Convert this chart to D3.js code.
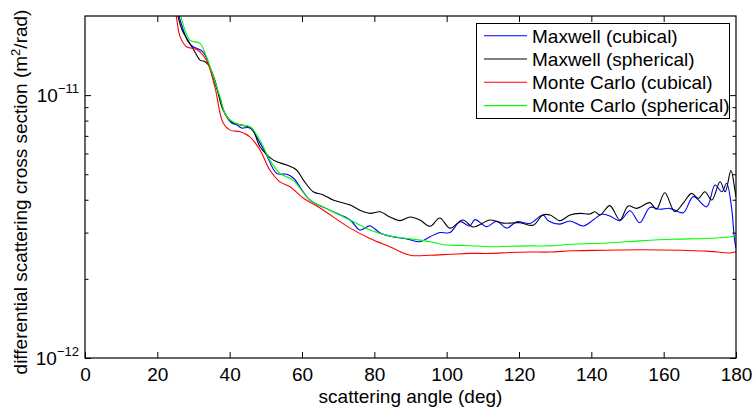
<!DOCTYPE html>
<html><head><meta charset="utf-8">
<script src="https://cdn.jsdelivr.net/npm/d3@7/dist/d3.min.js"></script>
<style>
body{margin:0;background:#fff}
text{font-family:"Liberation Sans",Arial,Helvetica,sans-serif;fill:#000}
</style>
</head><body>
<svg id="c" width="754" height="408"></svg>
<script>
// Values are in units of 1e-12 m^2/rad
const UNIT = 1e-12;
const seriesNames = ["Maxwell (cubical)", "Maxwell (spherical)", "Monte Carlo (cubical)", "Monte Carlo (spherical)"];
const seriesColors = ["#0000ff", "#000000", "#ff0000", "#00ff00"];

const maxwellCubicalAngle = [22, 24.5, 26.0, 28.6, 29.9, 31.2, 32.6, 33.6, 35.5, 37.3, 38.7, 40.6, 42.0, 43.3, 45.6, 48.4, 50.0, 53.0, 55.8, 57.6, 62.2, 67.7, 73.3, 76.0, 78.8, 81.6, 85.2, 89.0, 92.6, 95.4, 98.1, 100.9, 103.7, 106.4, 107.8, 111.1, 113.8, 116.6, 119.4, 123.0, 126.6, 128.1, 131.3, 134.1, 137.8, 140.5, 142.9, 145.1, 147.9, 150.7, 153.4, 156.2, 159.0, 161.7, 165.4, 168.2, 171.9, 174.2, 176.1, 177.4, 178.8, 179.5, 180];
const maxwellCubicalValue = [45, 25, 20.0, 15.9, 15.27, 15.0, 14.61, 13.9, 11.5, 9.8, 8.5, 7.83, 7.7, 7.5, 7.5, 6.57, 6.0, 5.04, 5.0, 4.84, 3.99, 3.65, 3.35, 3.07, 3.18, 2.99, 2.89, 2.84, 2.77, 2.89, 3.0, 3.0, 3.3, 3.18, 3.36, 3.16, 3.31, 3.12, 3.30, 3.25, 3.50, 3.33, 3.23, 3.32, 3.18, 3.35, 3.52, 3.47, 3.33, 3.63, 3.27, 3.74, 3.68, 3.71, 3.57, 4.11, 3.76, 4.55, 4.29, 4.62, 3.71, 2.89, 2.61];

const maxwellSphericalAngle = [22, 24.5, 25.7, 27.0, 29.0, 30.5, 31.8, 33.2, 34.2, 35.9, 38.2, 40.6, 43.3, 46.1, 48.4, 52.1, 55.8, 58.5, 60.4, 63.1, 65.9, 68.6, 73.3, 76.0, 78.8, 81.6, 84.3, 87.1, 89.9, 92.6, 95.4, 98.1, 100.9, 104.5, 107.3, 112.0, 115.6, 120.3, 123.9, 126.6, 128.6, 131.3, 134.1, 136.9, 139.6, 141.0, 142.4, 145.1, 147.9, 150.2, 152.5, 156.2, 158.0, 160.3, 163.1, 165.4, 167.7, 169.6, 171.4, 173.3, 175.6, 177.0, 178.6, 179.7, 180];
const maxwellSphericalValue = [50, 26, 20.0, 17.5, 15.73, 14.5, 13.59, 13.4, 13.0, 11.40, 8.77, 7.91, 7.69, 7.49, 6.36, 5.66, 5.42, 5.19, 4.75, 4.29, 4.17, 3.99, 3.82, 3.65, 3.55, 3.60, 3.44, 3.33, 3.44, 3.35, 3.17, 3.41, 3.12, 3.35, 3.15, 3.35, 3.26, 3.27, 3.20, 3.50, 3.50, 3.33, 3.50, 3.55, 3.53, 3.60, 3.50, 3.80, 3.35, 3.79, 3.71, 3.90, 3.68, 4.25, 3.60, 3.88, 4.23, 4.05, 4.29, 3.99, 4.68, 4.29, 5.16, 4.35, 4.1];

const monteCarloCubicalAngle = [22, 24.0, 25.4, 26.3, 28.1, 30.9, 33.6, 35.9, 38.2, 40.1, 42.9, 45.6, 48.4, 51.1, 53.9, 56.7, 60.4, 65.0, 73.3, 78.8, 84.3, 89.9, 95.4, 100.9, 106.4, 112.0, 117.5, 123.0, 128.6, 134.9, 144.2, 153.4, 164.5, 171.9, 178.3, 179.7, 180];
const monteCarloCubicalValue = [45, 26, 19.3, 16.66, 15.27, 14.92, 13.59, 10.75, 7.83, 7.36, 7.25, 6.94, 6.18, 5.19, 4.68, 4.48, 4.05, 3.72, 3.12, 2.85, 2.65, 2.46, 2.46, 2.48, 2.50, 2.50, 2.52, 2.53, 2.53, 2.56, 2.57, 2.58, 2.57, 2.55, 2.51, 2.53, 2.53];

const monteCarloSphericalAngle = [22, 25.0, 26.5, 29.0, 31.8, 33.6, 35.5, 37.3, 38.7, 40.1, 42.9, 45.6, 48.4, 51.1, 53.9, 57.5, 62.2, 67.7, 73.3, 78.8, 84.3, 89.9, 95.4, 100.0, 105.5, 112.0, 117.5, 123.0, 128.6, 134.9, 144.2, 153.4, 162.6, 171.9, 177.4, 179.7, 180];
const monteCarloSphericalValue = [50, 26, 20.0, 16.2, 15.73, 13.98, 11.74, 9.85, 8.52, 8.04, 7.69, 7.58, 6.74, 5.66, 5.04, 4.75, 3.99, 3.65, 3.35, 3.07, 2.91, 2.84, 2.77, 2.69, 2.68, 2.65, 2.66, 2.67, 2.67, 2.71, 2.74, 2.79, 2.83, 2.85, 2.88, 2.91, 2.91];

const xTicks = [0, 20, 40, 60, 80, 100, 120, 140, 160, 180];
const yMajorTicks = [1e-12, 1e-11];
const yTickBase = ["10", "10"];
const yTickExp = ["\u221212", "\u221211"];
const yMinorTicks = [2e-12, 3e-12, 4e-12, 5e-12, 6e-12, 7e-12, 8e-12, 9e-12];
const xTitle = "scattering angle (deg)";

const angles = [maxwellCubicalAngle, maxwellSphericalAngle, monteCarloCubicalAngle, monteCarloSphericalAngle];
const values = [maxwellCubicalValue, maxwellSphericalValue, monteCarloCubicalValue, monteCarloSphericalValue];

const L = 85, R = 736, T = 16, B = 358;
const FS = 19;
const svg = d3.select("#c");
const x = d3.scaleLinear().domain([0, 180]).range([L, R]);
const y = d3.scaleLog().domain([1e-12, 2e-11]).range([B, T]);

svg.append("defs").append("clipPath").attr("id", "clip")
  .append("rect").attr("x", L).attr("y", T).attr("width", R - L).attr("height", B - T);

const line = d3.line().x(d => x(d[0])).y(d => y(d[1] * UNIT)).curve(d3.curveCatmullRom.alpha(0.5));
const gLines = svg.append("g").attr("clip-path", "url(#clip)");
seriesNames.forEach((n, i) => {
  const data = angles[i].map((a, j) => [a, values[i][j]]);
  gLines.append("path").datum(data).attr("d", line)
    .attr("fill", "none").attr("stroke", seriesColors[i]).attr("stroke-width", 1.1);
});

function styleAxis(g) {
  g.select(".domain").remove();
  g.selectAll(".tick line").attr("stroke", "#000").attr("stroke-width", 1);
  g.selectAll("text").attr("font-size", FS).attr("font-family", "Liberation Sans, Arial, sans-serif").attr("fill", "#000");
}
// bottom axis with labels
svg.append("g").attr("transform", `translate(0,${B})`)
  .call(d3.axisBottom(x).tickValues(xTicks).tickSize(-6).tickPadding(10).tickFormat(d3.format("d")))
  .call(styleAxis);
// top axis
svg.append("g").attr("transform", `translate(0,${T})`)
  .call(d3.axisTop(x).tickValues(xTicks.slice(1, -1)).tickSize(-6).tickFormat(""))
  .call(styleAxis);
// left / right axes
[[L, d3.axisLeft], [R, d3.axisRight]].forEach(([px, ax]) => {
  svg.append("g").attr("transform", `translate(${px},0)`)
    .call(ax(y).tickValues(yMajorTicks).tickSize(-6).tickFormat(""))
    .call(styleAxis);
  svg.append("g").attr("transform", `translate(${px},0)`)
    .call(ax(y).tickValues(yMinorTicks).tickSize(-3.5).tickFormat(""))
    .call(styleAxis);
});
// box
svg.append("rect").attr("x", L).attr("y", T).attr("width", R - L).attr("height", B - T)
  .attr("fill", "none").attr("stroke", "#000").attr("stroke-width", 1.2);

// y tick labels
yMajorTicks.forEach((v, i) => {
  const t = svg.append("text").attr("x", 79).attr("y", y(v) + 6.5).attr("text-anchor", "end").attr("font-size", FS);
  t.append("tspan").text(yTickBase[i]);
  t.append("tspan").attr("dy", -9).attr("font-size", 13).text(yTickExp[i]);
});

// axis titles
svg.append("text").attr("x", (L + R) / 2).attr("y", 403).attr("text-anchor", "middle").attr("font-size", FS).text(xTitle);
const yt = svg.append("text").attr("transform", `translate(27,${(T + B) / 2 + 5}) rotate(-90)`)
  .attr("text-anchor", "middle").attr("font-size", FS);
yt.append("tspan").text("differential scattering cross section (m");
yt.append("tspan").attr("dy", -7).attr("font-size", 13).text("2");
yt.append("tspan").attr("dy", 7).text("/rad)");

// legend
const lg = svg.append("g");
lg.append("rect").attr("x", 476.5).attr("y", 23.5).attr("width", 253).attr("height", 95)
  .attr("fill", "#fff").attr("stroke", "#000").attr("stroke-width", 1);
seriesNames.forEach((n, i) => {
  const cy = 35.7 + i * 23.3;
  lg.append("line").attr("x1", 484).attr("x2", 527).attr("y1", cy).attr("y2", cy)
    .attr("stroke", seriesColors[i]).attr("stroke-width", 1.1);
  lg.append("text").attr("x", 532).attr("y", cy).attr("dy", "0.36em").attr("font-size", FS).text(n);
});
</script>
</body></html>
